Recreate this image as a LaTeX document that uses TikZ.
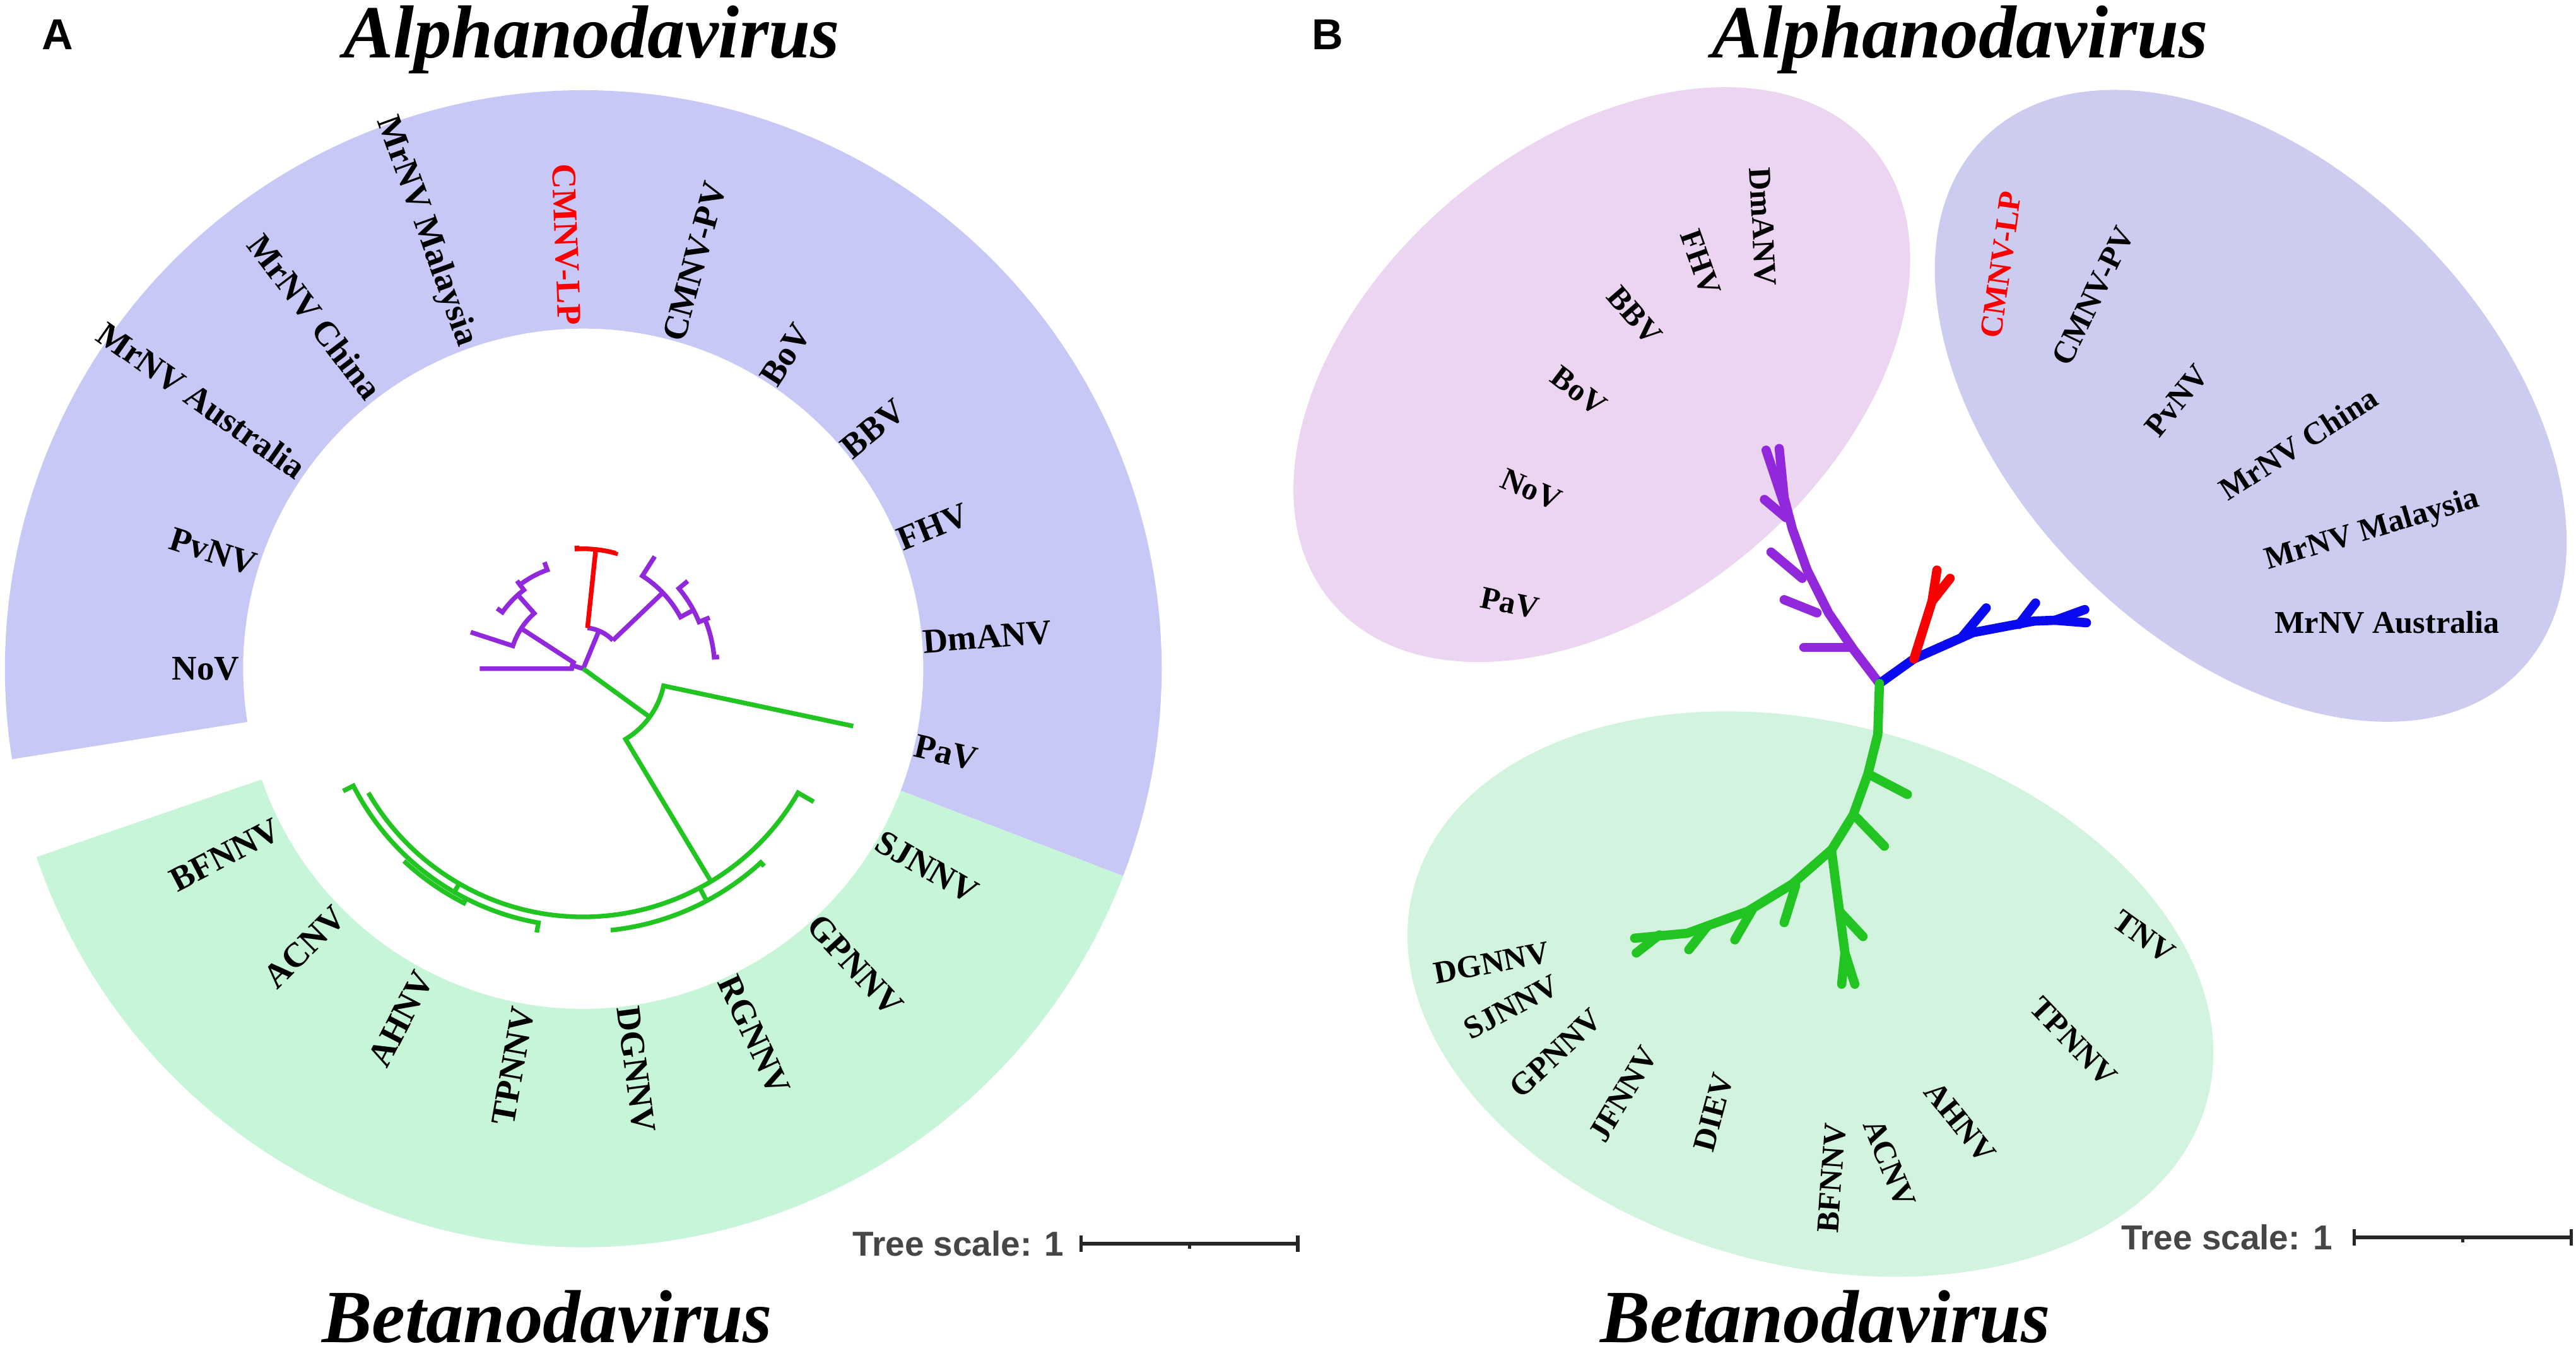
\documentclass[tikz,border=0pt]{standalone}
\usepackage{fontspec}
\setmainfont{Liberation Serif}
\newfontfamily\arialfont{Liberation Sans}
\usepackage{tikz}
\usetikzlibrary{calc}
\definecolor{ringalpha}{RGB}{200,200,246}
\definecolor{ringbeta}{RGB}{198,245,216}
\definecolor{ellpink}{RGB}{235,213,240}
\definecolor{ellblue}{RGB}{204,204,240}
\definecolor{ellgreen}{RGB}{210,244,222}
\definecolor{brpurple}{RGB}{145,40,220}
\definecolor{brgreen}{RGB}{34,196,34}
\definecolor{brred}{RGB}{250,0,0}
\definecolor{brblue}{RGB}{10,10,240}
\definecolor{scalegray}{RGB}{70,70,70}

\begin{document}
\begin{tikzpicture}[x=0.02cm, y=0.02cm,
    ttl/.style={font=\fontsize{26}{30}\selectfont\bfseries\itshape, inner sep=0, anchor=base},
    panel/.style={font=\arialfont\fontsize{15}{17}\selectfont\bfseries, inner sep=0, anchor=base},
    lblA/.style={font=\fontsize{12}{14}\selectfont\bfseries, inner sep=0},
    lblB/.style={font=\fontsize{11}{13}\selectfont\bfseries, inner sep=0},
    scalelbl/.style={font=\arialfont\fontsize{12}{14}\selectfont\bfseries, text=scalegray, inner sep=0, anchor=east},
    scalebar/.style={line width=1.2pt, black!85},
    treeA/.style={line width=1.6pt},
    treeB/.style={line width=3.2pt, line cap=round, line join=round}]
  \useasboundingbox (0,0) rectangle (1568,825);

  % Panel A: colour ring
  \coordinate (ctrA) at (355,418);
  \fill[ringalpha] ($(ctrA)+(-21:352)$) arc[start angle=-21, end angle=189, radius=352]
    -- ($(ctrA)+(189:207)$) arc[start angle=189, end angle=-21, radius=207] -- cycle;
  \fill[ringbeta] ($(ctrA)+(199:352)$) arc[start angle=199, end angle=339, radius=352]
    -- ($(ctrA)+(339:207)$) arc[start angle=339, end angle=199, radius=207] -- cycle;

  % Panel A: circular tree
  \begin{scope}[shift={(ctrA)}, treeA]
    % purple clade
    \draw[brpurple] (180:63) -- (180:7) arc[start angle=180, end angle=147, radius=7] -- (147:45);
    \draw[brpurple] (0,0) -- (163:7);
    \draw[brpurple] (162:72) -- (162:45) arc[start angle=162, end angle=131.5, radius=45] -- (131.5:60);
    \draw[brpurple] (145:64) -- (145:60) arc[start angle=145, end angle=127, radius=60] -- (127:64);
    \draw[brpurple] (127:67) -- (127:64) arc[start angle=127, end angle=110, radius=64] -- (110:69);
    \draw[brpurple] (0,0) -- (67.5:25);
    \draw[brpurple] (43.7:25) arc[start angle=43.7, end angle=84, radius=25];
    \draw[brpurple] (43.7:25) -- (43.7:67);
    \draw[brpurple] (57.5:81) -- (57.5:67) arc[start angle=57.5, end angle=28, radius=67] -- (28:76);
    \draw[brpurple] (40:83) -- (40:76) arc[start angle=40, end angle=22, radius=76] -- (22:80);
    \draw[brpurple] (22:83) -- (22:80) arc[start angle=22, end angle=5, radius=80] -- (5:83);
    % red clade
    \draw[brred] (84:25) -- (84:73);
    \draw[brred] (93:75) -- (93:73) arc[start angle=93, end angle=74.3, radius=73] -- (74.3:74);
    % green clade
    \draw[brgreen] (0,0) -- (-36:50);
    \draw[brgreen] (-12:168) -- (-12:50) arc[start angle=-12, end angle=-59, radius=50] -- (-59:151);
    \draw[brgreen] (-30:162) -- (-30:151) arc[start angle=-30, end angle=-150, radius=151];
    \draw[brgreen] (-62:151) -- (-62:160);
    \draw[brgreen] (-47.5:163) -- (-47.5:160) arc[start angle=-47.5, end angle=-84, radius=160];
    \draw[brgreen] (-120:151) -- (-120:157);
    \draw[brgreen] (-100:163) -- (-100:157) arc[start angle=-100, end angle=-153, radius=157] -- (-153:164);
    \draw[brgreen] (-117:157) -- (-117:160) arc[start angle=-117, end angle=-133, radius=160];
  \end{scope}

  % Panel A: leaf labels, left half reads inwards
  \begin{scope}[shift={(ctrA)}]
    \foreach \id/\ang/\txt/\col in {nov/180/NoV/black, pvnv/162.45/PvNV/black,
        mrau/144.9/MrNV Australia/black, mrcn/127.35/MrNV China/black,
        mrmy/109.8/MrNV Malaysia/black, cmlp/92.25/CMNV-LP/brred,
        bfnnv/207.5/BFNNV/black, acnv/225/ACNV/black, ahnv/242.5/AHNV/black,
        tpnnv/260/TPNNV/black}
      \node[lblA, text=\col, anchor=east, rotate=\ang-180] (A-\id) at (\ang:209) {\txt};
    % right half reads outwards
    \foreach \id/\ang/\txt in {cmpv/74.7/CMNV-PV, bov/57.15/BoV, bbv/39.6/BBV, fhv/22.05/FHV,
        dmanv/4.5/DmANV, pav/-13.05/PaV, dgnnv/-82.5/DGNNV, rgnnv/-65/RGNNV,
        gpnnv/-47.5/GPNNV, sjnnv/-30/SJNNV}
      \node[lblA, anchor=west, rotate=\ang] (A-\id) at (\ang:207) {\txt};
  \end{scope}

  % Panel A: titles and scale
  \node[panel] (panelA) at (35,795) {A};
  \node[ttl] (alphaA) at (360,790) {Alphanodavirus};
  \node[ttl] (betaA) at (333,8) {Betanodavirus};
  \node[scalelbl] (scaleA) at (648,68) {Tree scale: 1};
  \coordinate (barA0) at (658,68);
  \coordinate (barA1) at (790,68);
  \draw[scalebar] (barA0) -- (barA1);
  \draw[scalebar] ($(barA0)+(0,-5)$) -- ($(barA0)+(0,5)$);
  \draw[scalebar] ($(barA1)+(0,-5)$) -- ($(barA1)+(0,5)$);
  \draw[scalebar] ($(barA0)!0.5!(barA1)$) -- ++(0,-3);

  % Panel B: group ellipses
  \fill[ellpink, rotate around={40:(975,597)}] (975,597) ellipse[x radius=215, y radius=140];
  \fill[ellblue, rotate around={-45:(1370,578)}] (1370,578) ellipse[x radius=230, y radius=145];
  \fill[ellgreen, rotate around={-15:(1102,220)}] (1102,220) ellipse[x radius=250, y radius=165];

  % Panel B: unrooted tree
  \coordinate (rootB) at (1144,409);
  \begin{scope}[treeB]
    % purple arm
    \draw[brpurple] (rootB) -- (1128,430) -- (1113,452) -- (1100,478) -- (1091,503) -- (1086,522) -- (1083,552);
    \draw[brpurple] (1126,431) -- (1098,431);
    \draw[brpurple] (1106,452) -- (1086,460);
    \draw[brpurple] (1097,473) -- (1078,489);
    \draw[brpurple] (1087,510) -- (1074,521);
    \draw[brpurple] (1086,518) -- (1075,551);
    % blue arm
    \draw[brblue] (rootB) -- (1165,424) -- (1201,440) -- (1238,447) -- (1251,447.5) -- (1270,446);
    \draw[brblue] (1251,447.5) -- (1269,454);
    \draw[brblue] (1194,437) -- (1209,455);
    \draw[brblue] (1229,445) -- (1239,458);
    % red arm
    \draw[brred] (1165,424) -- (1176,459) -- (1179,478);
    \draw[brred] (1176,459) -- (1187,473);
    % green arm
    \draw[brgreen] (rootB) -- (1143,378) -- (1137,354) -- (1128,329) -- (1115,308) -- (1091,287)
      -- (1064,270.5) -- (1027,257) -- (995,254);
    \draw[brgreen] (1010,256) -- (996,245);
    \draw[brgreen] (1139,353) -- (1161,341.5);
    \draw[brgreen] (1130,327.5) -- (1147,310);
    \draw[brgreen] (1093,286) -- (1086,263.5);
    \draw[brgreen] (1067,272) -- (1056,253);
    \draw[brgreen] (1039,261) -- (1028,247);
    \draw[brgreen] (1115,306) -- (1123,245) -- (1121,226);
    \draw[brgreen] (1123,245) -- (1129,226);
    \draw[brgreen] (1120,270) -- (1134,255);
  \end{scope}

  % Panel B: leaf labels
  \foreach \id/\px/\py/\rot/\txt/\col in {
      dmanv/1073/687/-87/DmANV/black, fhv/1035/665/-70.5/FHV/black,
      bbv/995/633/-49/BBV/black, bov/961/587/-37/BoV/black,
      nov/932/527/-23.4/NoV/black, pav/919/458/-11.7/PaV/black,
      cmlp/1218/664/82/CMNV-LP/brred, cmpv/1274/645/64/CMNV-PV/black,
      pvnv/1325/581/51/PvNV/black, mrcn/1399/555/32.7/MrNV China/black,
      mrmy/1444/502/16.5/MrNV Malaysia/black, mrau/1453/446/0/MrNV Australia/black,
      dgnnv/908/239/11/DGNNV/black, sjnnv/920/212/28/SJNNV/black,
      gpnnv/947/184/43/GPNNV/black, jfnnv/988/159/59/JFNNV/black,
      diev/1043/148/75/DIEV/black, bfnnv/1115/108/86/BFNNV/black,
      acnv/1150/117/-68/ACNV/black, ahnv/1193/142/-51/AHNV/black,
      tpnnv/1262/191/-46/TPNNV/black, tnv/1305/255/-36/TNV/black}
    \node[lblB, text=\col, rotate=\rot] (B-\id) at (\px,\py) {\txt};

  % Panel B: titles and scale
  \node[panel] (panelB) at (808,795) {B};
  \node[ttl] (alphaB) at (1193,790) {Alphanodavirus};
  \node[ttl] (betaB) at (1111,8) {Betanodavirus};
  \node[scalelbl] (scaleB) at (1420,72) {Tree scale: 1};
  \coordinate (barB0) at (1433,72);
  \coordinate (barB1) at (1565,72);
  \draw[scalebar] (barB0) -- (barB1);
  \draw[scalebar] ($(barB0)+(0,-5)$) -- ($(barB0)+(0,5)$);
  \draw[scalebar] ($(barB1)+(0,-5)$) -- ($(barB1)+(0,5)$);
  \draw[scalebar] ($(barB0)!0.5!(barB1)$) -- ++(0,-3);
\end{tikzpicture}
\end{document}
